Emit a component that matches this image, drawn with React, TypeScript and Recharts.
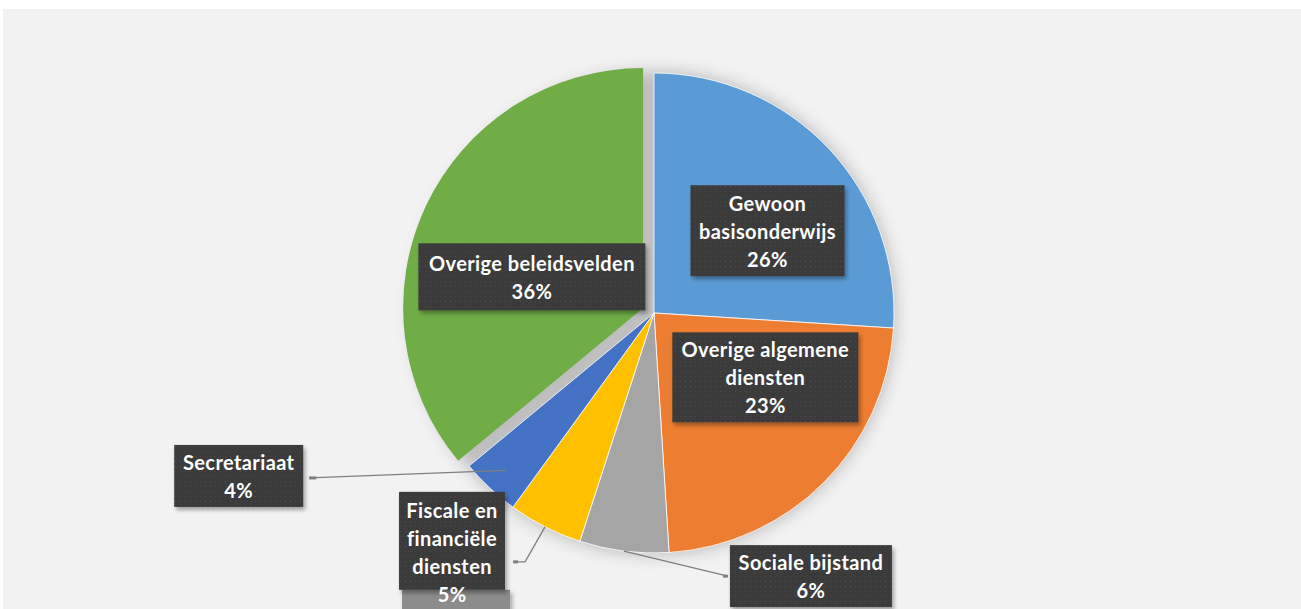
import { PieChart, Pie, Cell } from "recharts";

const categories = [
  "Gewoon basisonderwijs",
  "Overige algemene diensten",
  "Sociale bijstand",
  "Fiscale en financiële diensten",
  "Secretariaat",
  "Overige beleidsvelden",
];
const shares = [26, 23, 6, 5, 4, 36];
const labelText = [
  ["Gewoon", "basisonderwijs", "26%"],
  ["Overige algemene", "diensten", "23%"],
  ["Sociale bijstand", "6%"],
  ["Fiscale en", "financiële", "diensten", "5%"],
  ["Secretariaat", "4%"],
  ["Overige beleidsvelden", "36%"],
];
const colors = ["#5b9bd5", "#ed7d31", "#a5a5a5", "#ffc000", "#4472c4", "#70ad47"];
const explodedIndex = 5;

const data = categories.map((name, i) => ({ name, value: shares[i] }));

// label box placement: anchor on the mid angle at k * radius, then shifted
const labelLayout = [
  { k: 0.58, sx: 12, sy: 13, w: 154, h: 91, leader: "none" },
  { k: 0.55, sx: 18, sy: -29, w: 186, h: 90, leader: "none" },
  { k: 1, sx: 187, sy: 25, w: 162, h: 62, leader: "left" },
  { k: 1, sx: -93, sy: 14, w: 106, h: 98, leader: "elbow", textDy: 11.5 },
  { k: 1, sx: -251, sy: -12, w: 129, h: 62, leader: "right" },
  { k: 0.48, sx: -7, sy: 18, w: 227, h: 67, leader: "none" },
];

const W = 1298;
const H = 600;
const CX = 651;
const CY = 304;
const R = 240;
const EXPLODE = 12;
const RAD = Math.PI / 180;
const LINE_H = 28;
const FONT = "Lato, 'Open Sans', sans-serif";

const total = shares.reduce((a, b) => a + b, 0);
const before = shares.slice(0, explodedIndex).reduce((a, b) => a + b, 0);
const greenMid = ((before + shares[explodedIndex] / 2) / total) * 2 * Math.PI;
const GX = CX + EXPLODE * Math.sin(greenMid);
const GY = CY - EXPLODE * Math.cos(greenMid);

function polar(cx: number, cy: number, r: number, angle: number) {
  return { x: cx + r * Math.cos(-angle * RAD), y: cy + r * Math.sin(-angle * RAD) };
}

function renderLabel(props: any, only?: number) {
  const { cx, cy, midAngle, outerRadius, index } = props;
  if (only === undefined && index === explodedIndex) return <g key={index} />;
  if (only !== undefined && index !== only) return <g key={index} />;
  const lay = labelLayout[index];
  const a = polar(cx, cy, outerRadius * lay.k, midAngle);
  const bx = a.x + lay.sx;
  const by = a.y + lay.sy;
  const left = bx - lay.w / 2;
  const top = by - lay.h / 2;
  const lines = labelText[index];
  const t0 = by + (lay.textDy || 0) - ((lines.length - 1) * LINE_H) / 2;

  let leader = null;
  if (lay.leader === "left") {
    const s = polar(cx, cy, outerRadius, midAngle);
    const ex = left - 2;
    leader = (
      <g>
        <line x1={s.x} y1={s.y} x2={ex} y2={by} stroke="#7f7f7f" strokeWidth={1.3} />
        <rect x={ex - 5} y={by - 1.5} width={5} height={3} fill="#7f7f7f" />
      </g>
    );
  } else if (lay.leader === "right") {
    const s = polar(cx, cy, outerRadius * 0.9, midAngle);
    const ex = left + lay.w + 6;
    leader = (
      <g>
        <line x1={s.x} y1={s.y} x2={ex} y2={by + 2} stroke="#7f7f7f" strokeWidth={1.3} />
        <rect x={ex} y={by + 0.5} width={7} height={3} fill="#7f7f7f" />
      </g>
    );
  } else if (lay.leader === "elbow") {
    const s = polar(cx, cy, outerRadius, midAngle);
    const r0 = left + lay.w;
    leader = (
      <g>
        <polyline
          points={`${s.x},${s.y} ${r0 + 20},${by + 21} ${r0 + 12},${by + 21}`}
          fill="none"
          stroke="#7f7f7f"
          strokeWidth={1.3}
        />
        <rect x={r0 + 8} y={by + 19.5} width={5} height={3} fill="#7f7f7f" />
      </g>
    );
  }

  const overflow = t0 + (lines.length - 1) * LINE_H + 12 > top + lay.h;

  return (
    <g key={index}>
      {leader}
      {overflow && (
        <rect
          x={left + 3}
          y={top + lay.h}
          width={lay.w + 2}
          height={24}
          fill="#8c8c8c"
          filter="url(#boxShadow)"
        />
      )}
      <rect x={left} y={top} width={lay.w} height={lay.h} fill="url(#dots)" filter="url(#boxShadow)" />
      {lines.map((ln, j) => (
        <text
          key={j}
          x={bx}
          y={t0 + j * LINE_H}
          textAnchor="middle"
          dominantBaseline="central"
          fill="#ffffff"
          fontFamily={FONT}
          fontWeight={700}
          fontSize={20}
          letterSpacing={0.4}
        >
          {ln}
        </text>
      ))}
    </g>
  );
}

export default function App() {
  return (
    <div style={{ position: "absolute", left: 0, top: 0, width: 1301, height: 609, background: "#ffffff" }}>
      <div style={{ position: "absolute", left: 3, top: 9, width: W, height: H, background: "#f2f2f2" }}>
        <PieChart width={W} height={H} margin={{ top: 0, right: 0, bottom: 0, left: 0 }}>
          <defs>
            <filter id="pieShadow" x="-30%" y="-30%" width="160%" height="160%">
              <feGaussianBlur stdDeviation="8" />
            </filter>
            <filter id="boxShadow" x="-20%" y="-20%" width="140%" height="140%">
              <feDropShadow dx="2" dy="3" stdDeviation="2" floodColor="#000" floodOpacity="0.35" />
            </filter>
            <pattern id="dots" width="5" height="5" patternUnits="userSpaceOnUse">
              <rect width="5" height="5" fill="#3a3a3a" />
              <rect x="2" y="2" width="1" height="1" fill="#4c4c4c" />
            </pattern>
          </defs>
          <Pie
            data={data}
            dataKey="value"
            nameKey="name"
            cx={CX}
            cy={CY}
            outerRadius={R + 2}
            startAngle={90}
            endAngle={-270}
            stroke="none"
            isAnimationActive={false}
            label={false}
            labelLine={false}
          >
            {data.map((d) => (
              <Cell key={d.name} fill="#000000" fillOpacity={0.22} style={{ filter: "url(#pieShadow)" }} />
            ))}
          </Pie>
          <Pie
            data={data}
            dataKey="value"
            nameKey="name"
            cx={CX}
            cy={CY}
            outerRadius={R}
            startAngle={90}
            endAngle={-270}
            stroke="#ffffff"
            strokeWidth={0.8}
            isAnimationActive={false}
            labelLine={false}
            label={(p: any) => renderLabel(p)}
          >
            {data.map((d, i) => (
              <Cell
                key={d.name}
                fill={i === explodedIndex ? "transparent" : colors[i]}
                stroke={i === explodedIndex ? "none" : "#ffffff"}
              />
            ))}
          </Pie>
          <Pie
            data={data}
            dataKey="value"
            nameKey="name"
            cx={GX}
            cy={GY}
            outerRadius={R}
            startAngle={90}
            endAngle={-270}
            stroke="none"
            isAnimationActive={false}
            labelLine={false}
            label={(p: any) => renderLabel(p, explodedIndex)}
          >
            {data.map((d, i) => (
              <Cell key={d.name} fill={i === explodedIndex ? colors[i] : "transparent"} />
            ))}
          </Pie>
        </PieChart>
      </div>
    </div>
  );
}
